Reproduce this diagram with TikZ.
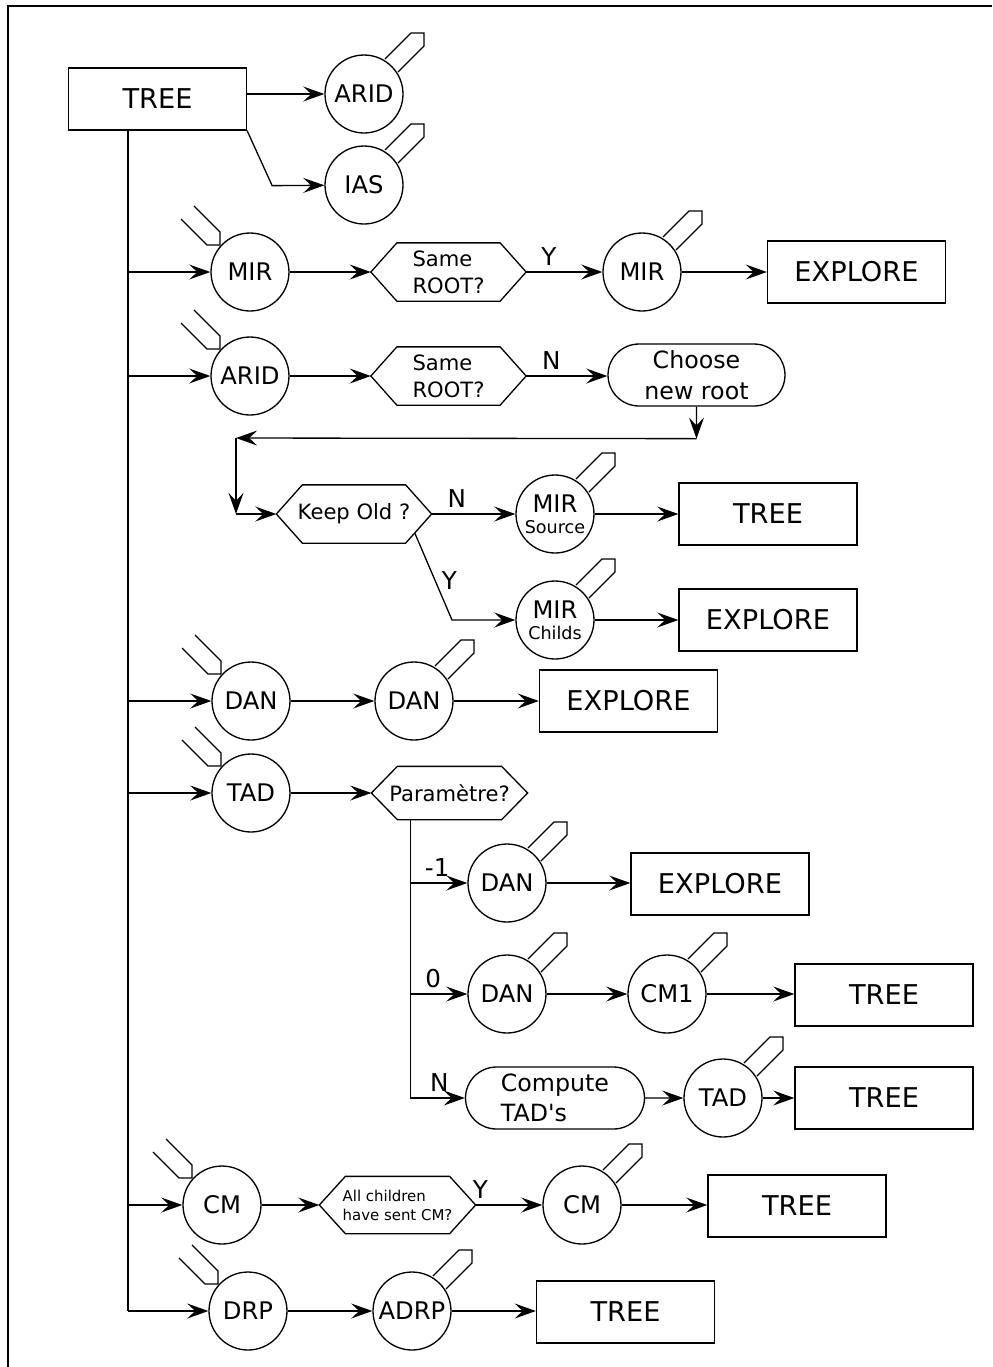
\documentclass[tikz,border=0pt]{standalone}
\usepackage{fontspec}
\setmainfont{DejaVu Sans}
\usetikzlibrary{arrows.meta,shapes.misc,calc}

\tikzset{
  state/.style={circle, draw, minimum size=1.56cm, inner sep=0pt, font=\fontsize{13.8}{15}\selectfont},
  bigbox/.style={rectangle, draw, minimum width=3.56cm, minimum height=1.24cm, font=\fontsize{15.5}{18}\selectfont},
  choice/.style={rectangle, minimum width=3.08cm, minimum height=1.14cm, inner sep=0pt, align=left, font=\fontsize{12}{15.3}\selectfont},
  roundbox/.style={rounded rectangle, draw, minimum width=3.56cm, minimum height=1.24cm, inner sep=0pt, font=\fontsize{13.5}{17.4}\selectfont},
  answer/.style={font=\fontsize{14}{16}\selectfont},
}
% hexagon drawn round a plain node
\newcommand{\hexa}[1]{\draw (#1.west) -- ([xshift=0.52cm]#1.north west) -- ([xshift=-0.52cm]#1.north east) -- (#1.east) -- ([xshift=-0.52cm]#1.south east) -- ([xshift=0.52cm]#1.south west) -- cycle;}
% hollow arrows on the circles
\newcommand{\hollowout}[1]{\draw ([shift={(21,-35)}]#1.center) -- ([shift={(47,-61)}]#1.center) -- ([shift={(60,-61)}]#1.center) -- ([shift={(60,-48)}]#1.center) -- ([shift={(34,-22)}]#1.center);}
\newcommand{\hollowin}[1]{\draw ([shift={(-56,-66)}]#1.center) -- ([shift={(-30,-40)}]#1.center) -- ([shift={(-30,-27)}]#1.center) -- ([shift={(-43,-27)}]#1.center) -- ([shift={(-69,-53)}]#1.center);}

\begin{document}
\begin{tikzpicture}[x=0.02cm, y=-0.02cm, line width=0.75pt, >={Stealth[length=12pt,width=8.5pt,inset=4.5pt]}]
  \useasboundingbox (0,0) rectangle (992,1367);
  \draw[line width=1.5pt] (8,1367) -- (8,6) -- (992,6);

  % start
  \node[bigbox] (tree0) at (157.5,99) {TREE};
  \node[state] (aridA) at (364,94) {ARID};
  \node[state] (iasA) at (364,185) {IAS};
  \coordinate (trunk) at (128,130);
  \draw[->] (tree0.east |- aridA) -- (aridA);
  \draw[->] (tree0.south east) -- ++(25,55) -- (iasA);

  % MIR
  \node[state] (mirA) at (250,272) {MIR};
  \node[choice] (sameA) at (448.5,272) {Same\\ROOT?};
  \node[state] (mirB) at (642,272) {MIR};
  \node[bigbox] (exploreA) at (856.5,272) {EXPLORE};
  \hexa{sameA}
  \draw[->] (mirA) -- (sameA);
  \draw[->] (sameA) -- node[answer, pos=0.3, above] {Y} (mirB);
  \draw[->] (mirB) -- (exploreA);

  % ARID
  \node[state] (aridB) at (250,376) {ARID};
  \node[choice] (sameB) at (448.5,376) {Same\\ROOT?};
  \node[roundbox, align=center, minimum width=3.54cm] (chooseA) at (696.5,375) {Choose\\new root};
  \hexa{sameB}
  \draw[->] (aridB) -- (sameB);
  \draw[->] (sameB) -- node[answer, pos=0.31, above] {N} (chooseA.west |- sameB);

  \node[choice] (keepA) at (354,514) {Keep Old ?};
  \hexa{keepA}
  \coordinate (c1) at ($(chooseA.south)+(0,32)$);
  \coordinate (c2) at (236,438);
  \coordinate (c3) at (c2 |- keepA);
  \draw[->] (chooseA) -- (c1);
  \draw[->] (c1) -- (c2);
  \draw[->] (c2) -- (c3);
  \draw[->] (c3) -- (keepA);

  \node[state, align=center] (mirC) at (555,514) {MIR\\[-3pt]{\fontsize{10}{10}\selectfont Source}};
  \node[bigbox] (treeB) at (768,514) {TREE};
  \draw[->] (keepA) -- node[answer, pos=0.3, above] {N} (mirC);
  \draw[->] (mirC) -- (treeB);

  \node[state, align=center] (mirD) at (555,620) {MIR\\[-3pt]{\fontsize{10}{10}\selectfont Childs}};
  \node[bigbox] (exploreB) at (768,620) {EXPLORE};
  \coordinate (k1) at ($(keepA.east)!0.65!([xshift=-0.52cm]keepA.south east)$);
  \coordinate (k2) at (452,620);
  \draw[->] (k1) -- node[answer, pos=0.55, right] {Y} (k2) -- (mirD);
  \draw[->] (mirD) -- (exploreB);

  % DAN
  \node[state] (danA) at (251,701) {DAN};
  \node[state] (danB) at (414,701) {DAN};
  \node[bigbox] (exploreC) at (628.5,701) {EXPLORE};
  \draw[->] (danA) -- (danB);
  \draw[->] (danB) -- (exploreC);

  % TAD
  \node[state] (tadA) at (251,793) {TAD};
  \node[choice, minimum width=3.1cm, minimum height=1.04cm] (paramA) at (449.5,793) {Paramètre?};
  \hexa{paramA}
  \draw[->] (tadA) -- (paramA.west);

  \node[state] (danC) at (507,883) {DAN};
  \node[bigbox] (exploreD) at (720,884) {EXPLORE};
  \node[state] (danD) at (507,994) {DAN};
  \node[state] (cm1) at (667,994) {CM1};
  \node[bigbox] (treeC) at (884,995) {TREE};
  \node[roundbox, align=left, minimum width=3.58cm] (computeA) at (555,1098) {Compute\\TAD\textquotesingle s};
  \node[state] (tadB) at (723,1098) {TAD};
  \node[bigbox] (treeD) at (884,1098) {TREE};

  \coordinate (p0) at ([xshift=0.78cm]paramA.south west);
  \draw (p0) -- (p0 |- computeA);
  \draw[->] (p0 |- danC) -- node[answer, pos=0.47, above] {-1} (danC);
  \draw[->] (danC) -- (exploreD.west |- danC);
  \draw[->] (p0 |- danD) -- node[answer, pos=0.4, above] {0} (danD);
  \draw[->] (danD) -- (cm1);
  \draw[->] (cm1) -- (treeC.west |- cm1);
  \draw[->] (p0 |- computeA) -- node[answer, pos=0.53, above] {N} (computeA);
  \draw[->] (computeA) -- (tadB);
  \draw[->] (tadB) -- (treeD);

  % CM
  \node[state] (cmA) at (222,1205) {CM};
  \node[choice, minimum width=3.1cm, minimum height=1.12cm, font=\fontsize{8.5}{10.8}\selectfont] (allA) at (397.5,1205) {All children\\have sent CM?};
  \node[state] (cmB) at (582,1205) {CM};
  \node[bigbox] (treeE) at (797,1206) {TREE};
  \hexa{allA}
  \draw[->] (cmA) -- (allA);
  \draw[->] (allA) -- node[answer, pos=0.07, above] {Y} (cmB);
  \draw[->] (cmB) -- (treeE.west |- cmB);

  % DRP
  \node[state] (drpA) at (248,1311) {DRP};
  \node[state] (adrpA) at (412,1311) {ADRP};
  \node[bigbox] (treeF) at (625.5,1312) {TREE};
  \draw[->] (drpA) -- (adrpA);
  \draw[->] (adrpA) -- (treeF.west |- adrpA);

  % trunk
  \draw (trunk) -- (trunk |- drpA);
  \foreach \n in {mirA,aridB,danA,tadA,cmA,drpA}
    \draw[->] (trunk |- \n) -- (\n);

  \foreach \n in {mirA,aridB,danA,tadA,cmA,drpA}
    {\hollowin{\n}}
  \foreach \n in {aridA,iasA,mirB,mirC,mirD,danB,danC,danD,cm1,tadB,cmB,adrpA}
    {\hollowout{\n}}
\end{tikzpicture}
\end{document}
